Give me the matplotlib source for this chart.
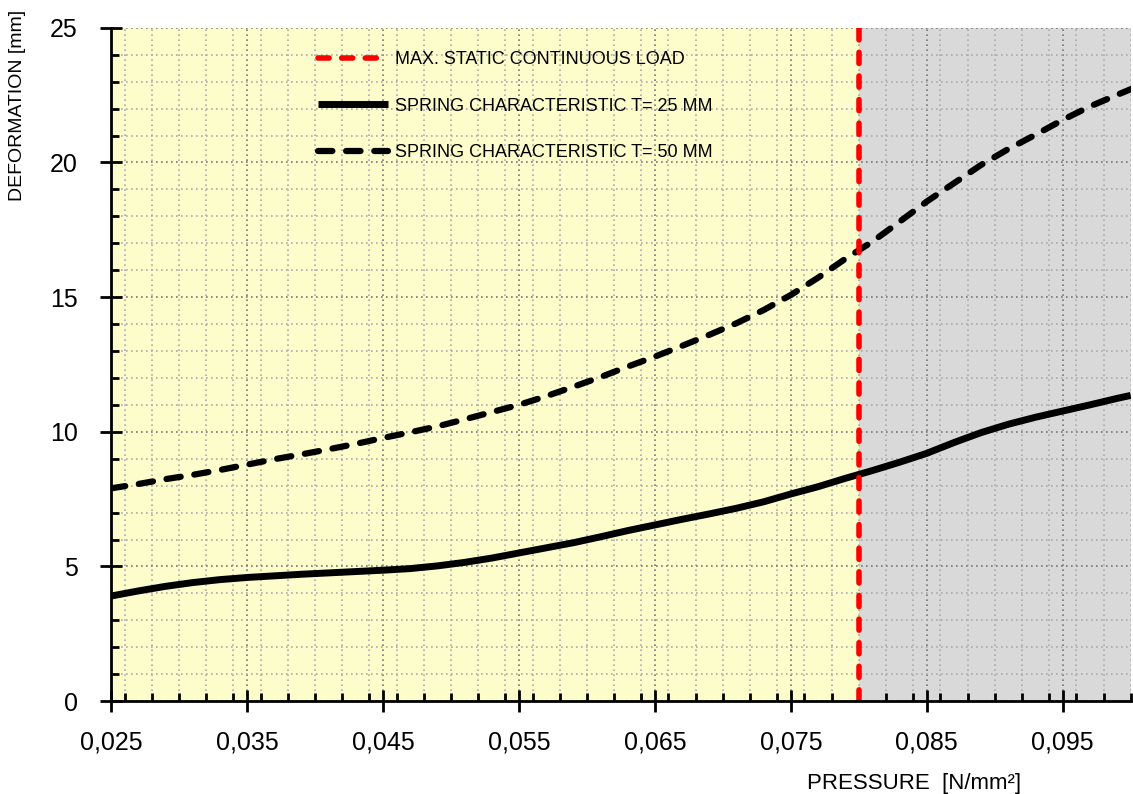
import matplotlib
matplotlib.use("Agg")
import matplotlib.pyplot as plt
from matplotlib.ticker import MultipleLocator, FuncFormatter

plt.rcParams['font.family'] = ['Liberation Sans', 'DejaVu Sans']

pressure = [0.025, 0.027, 0.029, 0.031, 0.033, 0.035, 0.037, 0.039, 0.041, 0.043,
            0.045, 0.047, 0.049, 0.051, 0.053, 0.055, 0.057, 0.059, 0.061, 0.063,
            0.065, 0.067, 0.069, 0.071, 0.073, 0.075, 0.077, 0.079, 0.081, 0.083,
            0.085, 0.087, 0.089, 0.091, 0.093, 0.095, 0.097, 0.099, 0.100]
t25 = [3.9, 4.09, 4.26, 4.4, 4.51, 4.59, 4.65, 4.71, 4.76, 4.81,
       4.86, 4.92, 5.02, 5.15, 5.31, 5.5, 5.69, 5.88, 6.1, 6.33,
       6.54, 6.75, 6.95, 7.16, 7.4, 7.69, 7.96, 8.27, 8.56, 8.87,
       9.2, 9.6, 9.97, 10.28, 10.54, 10.77, 11.0, 11.24, 11.35]
t50 = [7.9, 8.06, 8.24, 8.4, 8.58, 8.78, 8.98, 9.16, 9.35, 9.55,
       9.77, 9.98, 10.2, 10.46, 10.73, 11.0, 11.32, 11.67, 12.03, 12.42,
       12.79, 13.19, 13.6, 14.03, 14.52, 15.08, 15.72, 16.42, 17.06, 17.8,
       18.55, 19.23, 19.91, 20.5, 21.03, 21.58, 22.08, 22.51, 22.72]
max_load = 0.08
xticks = [0.025, 0.035, 0.045, 0.055, 0.065, 0.075, 0.085, 0.095]
labels = ["MAX. STATIC CONTINUOUS LOAD",
          "SPRING CHARACTERISTIC T= 25 MM",
          "SPRING CHARACTERISTIC T= 50 MM"]

fig = plt.figure(figsize=(11.33, 7.94), dpi=100)
ax = fig.add_axes([0.098, 0.117, 0.9, 0.848])
ax.set_xlim(0.025, 0.1)
ax.set_ylim(0, 25)

ax.axvspan(0.025, max_load, color='#FDFDCC', zorder=0, lw=0)
ax.axvspan(max_load, 0.1, color='#D9D9D9', zorder=0, lw=0)

ax.set_xticks(xticks)
ax.xaxis.set_minor_locator(MultipleLocator(0.002))
ax.yaxis.set_major_locator(MultipleLocator(5))
ax.yaxis.set_minor_locator(MultipleLocator(1))
ax.xaxis.set_major_formatter(FuncFormatter(lambda v, p: f"{v:.3f}".replace('.', ',')))

ax.grid(which='minor', color='#ABABAB', linestyle=(0, (1, 2)), lw=1.2, zorder=1)
ax.grid(which='major', color='#777777', linestyle=(0, (1, 2)), lw=1.2, zorder=1)

for s in ['top', 'right']:
    ax.spines[s].set_visible(False)
for s in ['left', 'bottom']:
    ax.spines[s].set_linewidth(2)
    ax.spines[s].set_zorder(5)

ax.tick_params(which='major', direction='inout', length=16, width=2, labelsize=18)
ax.tick_params(which='minor', direction='in', length=6, width=2)
ax.tick_params(axis='x', which='major', pad=13)
ax.tick_params(axis='y', which='major', pad=16)

l1 = ax.axvline(max_load, color='#FF0000', lw=4, linestyle=(0, (2.0, 2.25)), zorder=4,
                dash_capstyle='round')
l2, = ax.plot(pressure, t25, color='black', lw=5, zorder=3, solid_capstyle='butt',
              solid_joinstyle='round')
l3, = ax.plot(pressure, t50, color='black', lw=4.5, linestyle=(0, (2.3, 2.2)), zorder=3,
              dash_capstyle='round', dash_joinstyle='round')

leg = ax.legend([l1, l2, l3], labels, loc='upper left', bbox_to_anchor=(0.187, 0.989),
                frameon=False, fontsize=13, handlelength=3.9, handletextpad=0.35,
                labelspacing=1.62)

fig.text(18 / 1133, 1 - 10 / 794, "DEFORMATION [mm]", rotation=90, ha='center', va='top',
         fontsize=14)
fig.text(914 / 1133, 1 - 784 / 794, "PRESSURE  [N/mm²]", ha='center', va='center',
         fontsize=16)

fig.savefig("out.png", dpi=100)
